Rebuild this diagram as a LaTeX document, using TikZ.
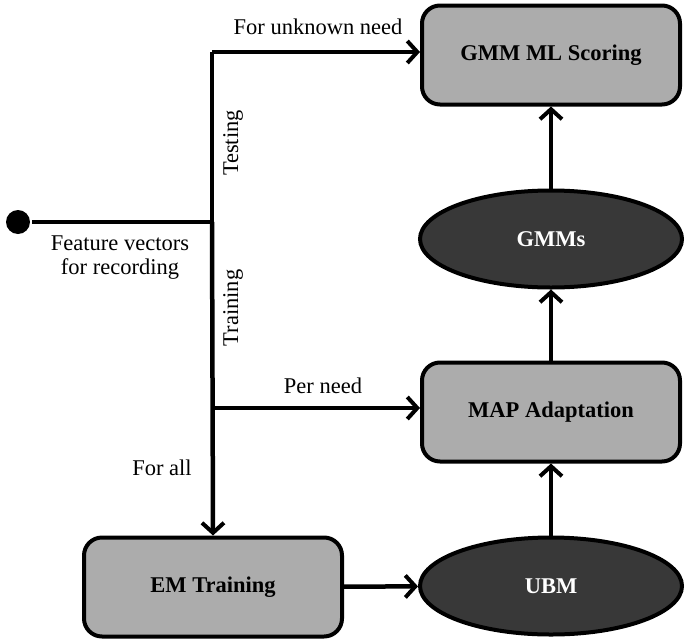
\documentclass[tikz,border=0pt]{standalone}
\usepackage{fontspec}
\setmainfont{Liberation Serif}
\usetikzlibrary{arrows.meta,shapes.geometric}
\begin{document}
\begin{tikzpicture}[x=1pt,y=-1pt,
  line width=4.5pt,
  conn/.style={-{Straight Barb[length=10pt,width=22pt,line width=4pt]}},
  boxnode/.style={draw,rounded corners=18pt,fill=gray!65,minimum width=258pt,minimum height=99pt,font=\fontsize{22.5}{26}\selectfont\bfseries,line width=4pt},
  ellnode/.style={draw,ellipse,fill=black!78,minimum width=262pt,minimum height=97pt,text=white,font=\fontsize{22.5}{26}\selectfont\bfseries,line width=4pt},
  lbl/.style={font=\fontsize{22.5}{26}\selectfont,align=center}]
\useasboundingbox (0,0) rectangle (685,640);
\node[boxnode] (gmmml) at (551,55) {GMM ML Scoring};
\node[ellnode] (gmms) at (551,239) {GMMs};
\node[boxnode] (map) at (551,412) {MAP Adaptation};
\node[ellnode] (ubm) at (551,586) {UBM};
\node[boxnode] (em) at (213,587) {EM Training};
\node[circle,fill=black,inner sep=0pt,minimum size=24pt] (dot) at (18,222) {};
\coordinate (jt) at (212,52);
\coordinate (jm) at (212,222);
\coordinate (jp) at (212,408);
\draw (dot) -- (jm);
\draw (jt) -- (jm);
\draw[conn] (jt) -- (gmmml.west |- jt);
\draw[conn] (jm) -- (em.north);
\draw[conn] (jp) -- (map.west |- jp);
\draw[conn] (em) -- (ubm);
\draw[conn] (ubm) -- (map);
\draw[conn] (map.north) -- (gmms.south);
\draw[conn] (gmms.north) -- (gmmml.south);
\node[lbl] (l1) at (318,27) {For unknown need};
\node[lbl,rotate=90] (l2) at (233,143) {Testing};
\node[lbl,rotate=90] (l3) at (233,308) {Training};
\node[lbl,inner sep=0pt] (l4) at (120,258) {Feature vectors\\[-2pt]for recording};
\node[lbl] (l5) at (323,386) {Per need};
\node[lbl] (l6) at (162,468) {For all};
\end{tikzpicture}
\end{document}
